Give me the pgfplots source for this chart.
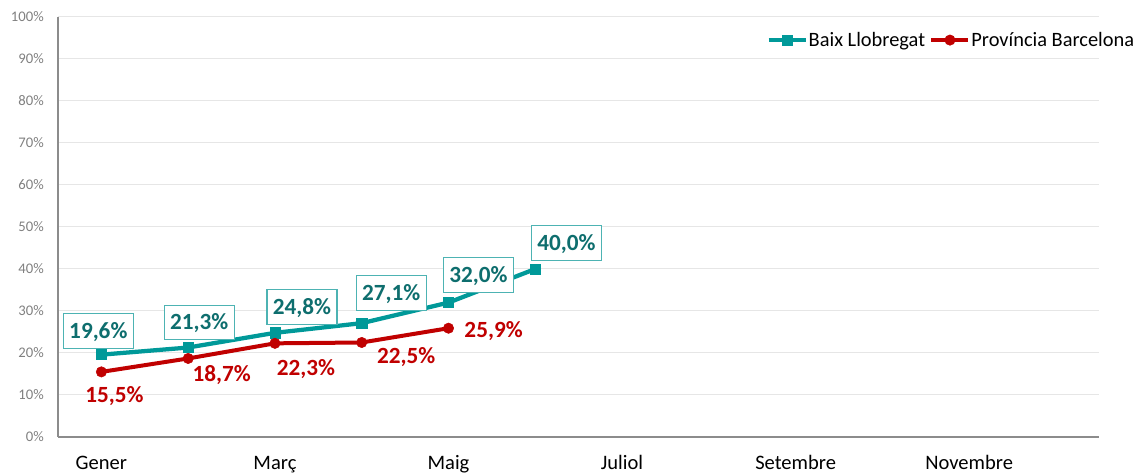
\documentclass[border=0pt]{standalone}
\usepackage{pgfplots}
\pgfplotsset{compat=1.18}
\usepackage{pgfplotstable}
\usepackage{fontspec}
\setmainfont{Carlito}

\definecolor{teal1}{HTML}{009999}
\definecolor{tealtxt}{HTML}{0E6E6E}
\definecolor{tealbox}{HTML}{4DB3B3}
\definecolor{red1}{HTML}{C00000}
\definecolor{gridc}{HTML}{E6E6E6}
\definecolor{axisc}{HTML}{8C8C8C}
\definecolor{tickc}{HTML}{808080}

\pgfplotstableread{
x y dx dy
1 19.6 -2.3 17.6
2 21.3 8.3 18.8
3 24.8 20.3 19.5
4 27.1 22.1 22.5
5 32.0 22.5 20.6
6 40.0 23.3 19.5
}\baix

\pgfplotstableread{
x y dx dy
1 15.5 9.8 -17.3
2 18.7 25.1 -12.0
3 22.3 23.3 -18.4
4 22.5 33.4 -9.8
5 25.9 33.8 -1.5
}\prov

\begin{document}
\begin{tikzpicture}
\useasboundingbox (0,0) rectangle (852.75pt,354.75pt);
\begin{axis}[
  at={(43.5pt,27pt)}, anchor=south west,
  scale only axis,
  width=781pt, height=315pt,
  xmin=0.5, xmax=12.5,
  ymin=0, ymax=100,
  clip=false,
  axis x line*=bottom, axis y line*=left,
  axis line style={axisc, line width=1pt, -},
  major tick length=0pt,
  ymajorgrids, grid style={gridc, line width=0.75pt},
  xtick={1,3,5,7,9,11},
  xticklabels={Gener,Març,Maig,Juliol,Setembre,Novembre},
  ytick={0,10,20,30,40,50,60,70,80,90,100},
  yticklabels={0\%,10\%,20\%,30\%,40\%,50\%,60\%,70\%,80\%,90\%,100\%},
  xticklabel style={anchor=base, inner sep=0pt, yshift=-24.75pt, font=\fontsize{15.4}{18}\selectfont, text=black},
  yticklabel style={anchor=east, inner sep=0pt, xshift=-10.5pt, font=\fontsize{11}{13}\selectfont, text=tickc},
  legend style={at={(1.0346,0.945)}, anchor=east, draw=none, fill=none, inner sep=0pt,
    font=\fontsize{15.3}{18}\selectfont, text=black,
    nodes={inner xsep=0.75pt, inner ysep=0pt},
    /tikz/every even column/.append style={column sep=2.5pt}},
  legend columns=2,
  legend image code/.code={\draw[mark repeat=2,mark phase=2,#1] plot coordinates {(0pt,0pt) (13.9pt,0pt) (27.75pt,0pt)};},
]
\addplot[teal1, line width=3.2pt, mark=square*, mark size=3.8pt,
  mark options={fill=teal1, draw=teal1, line width=0.4pt},
  point meta=y,
  visualization depends on={\thisrow{dx} \as \dx},
  visualization depends on={\thisrow{dy} \as \dy},
  nodes near coords={\pgfmathprintnumber[fixed,fixed zerofill,precision=1,use comma,assume math mode=true]{\pgfplotspointmeta}\%},
  nodes near coords style={anchor=center, xshift=\dx*1pt, yshift=\dy*1pt,
    font=\fontsize{17.4}{20}\selectfont\bfseries, text=tealtxt, fill=white, draw=tealbox, line width=0.8pt,
    inner sep=0pt, text height=11.3pt, text depth=0pt, minimum width=52.5pt, minimum height=26pt}]
  table[x=x, y=y] {\baix};
\addlegendentry{Baix Llobregat}
\addplot[red1, line width=3pt, mark=*, mark size=3.9pt,
  mark options={fill=red1, draw=red1, line width=0.4pt},
  point meta=y,
  visualization depends on={\thisrow{dx} \as \dx},
  visualization depends on={\thisrow{dy} \as \dy},
  nodes near coords={\pgfmathprintnumber[fixed,fixed zerofill,precision=1,use comma,assume math mode=true]{\pgfplotspointmeta}\%},
  nodes near coords style={anchor=center, xshift=\dx*1pt, yshift=\dy*1pt,
    font=\fontsize{17.4}{20}\selectfont\bfseries, text=red1,
    inner sep=0pt, text height=11.3pt, text depth=0pt}]
  table[x=x, y=y] {\prov};
\addlegendentry{Província Barcelona}
\end{axis}
\end{tikzpicture}
\end{document}
